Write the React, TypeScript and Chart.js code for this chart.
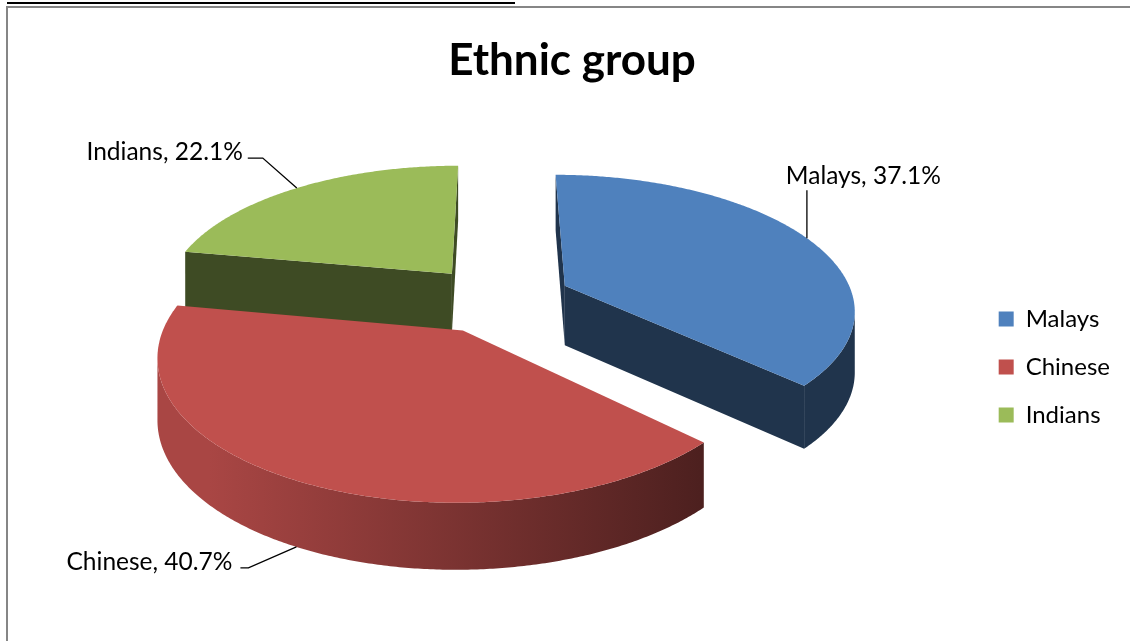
import React, { useEffect, useRef } from 'react';
import { Chart, registerables } from 'chart.js';

Chart.register(...registerables);

// ---- data ----
const categories = ['Malays', 'Chinese', 'Indians'];
const percentages = [37.1, 40.7, 22.1];
const sliceColors = ['#4F81BD', '#C0504D', '#9BBB59'];
const titleText = 'Ethnic group';

const FONT = 'Lato';

// 3D view settings (style)
const VIEW = {
  perspective: 0.00056,
  tilt: 0.46,
  depth: 60,
  shiftX: -1.5,
  shiftY: -68,
  radialShade: 0.4,
  wallLight: 0.88,
  wallDark: 0.4,
};

// leader line / label placement (style), per category
const LEADERS = [
  { elbowDx: 0, elbowDy: -48, run: 0, align: 'center', textDx: 56.5, textDy: -6.7 },
  { elbowDx: -48, elbowDy: 21, run: -8, align: 'right', textDx: -8, textDy: 2 },
  { elbowDx: -34, elbowDy: -30, run: -15, align: 'right', textDx: -5, textDy: 2 },
];

function shade(hex: string, f: number) {
  const n = parseInt(hex.slice(1), 16);
  const r = Math.round(((n >> 16) & 255) * f);
  const g = Math.round(((n >> 8) & 255) * f);
  const b = Math.round((n & 255) * f);
  return `rgb(${r},${g},${b})`;
}

const pie3d = {
  id: 'pie3d',
  beforeDatasetsDraw(chart: any) {
    const meta = chart.getDatasetMeta(0);
    const arcs = meta.data;
    if (!arcs.length) return false;
    const ctx: CanvasRenderingContext2D = chart.ctx;
    const cx = arcs[0].x + VIEW.shiftX;
    const cy = arcs[0].y + VIEW.shiftY;
    const camZ = 1 / VIEW.perspective;
    const D = VIEW.depth;
    const proj = (X: number, Z: number, down: number): [number, number] => {
      const s = 1 / (1 - Z * VIEW.perspective);
      return [cx + X * s, cy + Z * VIEW.tilt * s + down * Math.sqrt(s)];
    };

    const slices = arcs.map((arc: any, i: number) => {
      const p = arc.getProps(['startAngle', 'endAngle', 'outerRadius'], true);
      const off = arc.options.offset || 0;
      const mid = (p.startAngle + p.endAngle) / 2;
      return {
        i,
        a0: p.startAngle,
        a1: p.endAngle,
        r: p.outerRadius,
        mid,
        ox: Math.cos(mid) * off,
        oz: Math.sin(mid) * off,
        color: arc.options.backgroundColor as string,
      };
    });

    const R = slices[0].r;
    const order = [...slices].sort((a: any, b: any) => a.oz - b.oz);

    ctx.save();
    for (const sl of order) {
      const pt = (a: number, down: number) =>
        proj(sl.ox + sl.r * Math.cos(a), sl.oz + sl.r * Math.sin(a), down);
      const ctr = (down: number) => proj(sl.ox, sl.oz, down);

      // radial faces
      const faces: [number, number, number][] = [
        [sl.a0, Math.sin(sl.a0), -Math.cos(sl.a0)],
        [sl.a1, -Math.sin(sl.a1), Math.cos(sl.a1)],
      ];
      for (const [a, nx, nz] of faces) {
        const px = sl.ox + 0.5 * sl.r * Math.cos(a);
        const pz = sl.oz + 0.5 * sl.r * Math.sin(a);
        if (nx * (0 - px) + nz * (camZ - pz) <= 0) continue;
        const q = [ctr(0), pt(a, 0), pt(a, D), ctr(D)];
        ctx.beginPath();
        ctx.moveTo(q[0][0], q[0][1]);
        for (let k = 1; k < q.length; k++) ctx.lineTo(q[k][0], q[k][1]);
        ctx.closePath();
        ctx.fillStyle = shade(sl.color, VIEW.radialShade);
        ctx.fill();
      }

      // outer wall
      const grad = ctx.createLinearGradient(cx - R, 0, cx + 0.7 * R, 0);
      grad.addColorStop(0, shade(sl.color, VIEW.wallLight));
      grad.addColorStop(1, shade(sl.color, VIEW.wallDark));
      const n = Math.max(2, Math.ceil((sl.a1 - sl.a0) / (Math.PI / 360)));
      let run: number[] = [];
      const flush = () => {
        if (run.length > 1) {
          ctx.beginPath();
          const f = pt(run[0], 0);
          ctx.moveTo(f[0], f[1]);
          for (let k = 1; k < run.length; k++) {
            const p = pt(run[k], 0);
            ctx.lineTo(p[0], p[1]);
          }
          for (let k = run.length - 1; k >= 0; k--) {
            const p = pt(run[k], D);
            ctx.lineTo(p[0], p[1]);
          }
          ctx.closePath();
          ctx.fillStyle = grad;
          ctx.fill();
        }
        run = [];
      };
      for (let k = 0; k <= n; k++) {
        const a = sl.a0 + ((sl.a1 - sl.a0) * k) / n;
        const X = sl.ox + sl.r * Math.cos(a);
        const Z = sl.oz + sl.r * Math.sin(a);
        const vis = Math.cos(a) * (0 - X) + Math.sin(a) * (camZ - Z) > 0;
        if (vis) run.push(a);
        else flush();
      }
      flush();

      // top face
      ctx.beginPath();
      const c0 = ctr(0);
      ctx.moveTo(c0[0], c0[1]);
      for (let k = 0; k <= n; k++) {
        const a = sl.a0 + ((sl.a1 - sl.a0) * k) / n;
        const p = pt(a, 0);
        ctx.lineTo(p[0], p[1]);
      }
      ctx.closePath();
      ctx.fillStyle = sl.color;
      ctx.fill();
    }

    // data labels with leader lines
    for (const sl of slices) {
      const L = LEADERS[sl.i];
      const front = Math.sin(sl.mid) > 0.5;
      const [ax, ay] = proj(
        sl.ox + sl.r * Math.cos(sl.mid),
        sl.oz + sl.r * Math.sin(sl.mid),
        front ? D : 0
      );
      const ex = ax + L.elbowDx;
      const ey = ay + L.elbowDy;
      const rx = ex + L.run;
      ctx.beginPath();
      ctx.moveTo(ax, ay);
      ctx.lineTo(ex, ey);
      ctx.lineTo(rx, ey);
      ctx.strokeStyle = '#000';
      ctx.lineWidth = 1.3;
      ctx.stroke();
      ctx.fillStyle = '#000';
      ctx.font = `24.5px ${FONT}`;
      ctx.textAlign = L.align as CanvasTextAlign;
      ctx.textBaseline = 'alphabetic';
      const text = `${categories[sl.i]}, ${percentages[sl.i].toFixed(1)}%`;
      ctx.fillText(text, rx + L.textDx, ey + L.textDy);
    }
    ctx.restore();
    return false;
  },
};

export default function App() {
  const ref = useRef<HTMLCanvasElement>(null);
  useEffect(() => {
    const chart = new Chart(ref.current as HTMLCanvasElement, {
      type: 'pie',
      data: {
        labels: categories,
        datasets: [
          {
            data: percentages,
            backgroundColor: sliceColors,
            borderWidth: 0,
            offset: 74,
            radius: 289,
          } as any,
        ],
      },
      options: {
        animation: false,
        responsive: false,
        events: [],
        layout: { padding: { left: 24, right: 10, top: 0, bottom: 3.8 } },
        plugins: {
          title: {
            display: true,
            text: titleText,
            color: '#000',
            font: { family: FONT, size: 44, weight: 'bold' },
            padding: { top: 34, bottom: 10 },
          },
          legend: {
            position: 'right',
            align: 'center',
            fullSize: false,
            labels: {
              boxWidth: 15,
              boxHeight: 15,
              padding: 24,
              color: '#000',
              font: { family: FONT, size: 24 },
            },
          },
          tooltip: { enabled: false },
        },
      } as any,
      plugins: [pie3d as any],
    });
    return () => chart.destroy();
  }, []);

  return (
    <div
      style={{
        position: 'fixed',
        left: 0,
        top: 0,
        width: 1130,
        height: 641,
        overflow: 'hidden',
        background: '#fff',
      }}
    >
      <div
        style={{
          position: 'absolute',
          left: 7,
          top: 2,
          width: 508,
          height: 0,
          borderTop: '2px solid #000',
        }}
      />
      <div
        style={{
          position: 'absolute',
          left: 6,
          top: 6,
          width: 1200,
          height: 700,
          borderLeft: '2px solid #868686',
          borderTop: '2px solid #868686',
        }}
      />
      <canvas
        ref={ref}
        width={1130}
        height={641}
        style={{ position: 'absolute', left: 0, top: 0, width: 1130, height: 641 }}
      />
    </div>
  );
}
